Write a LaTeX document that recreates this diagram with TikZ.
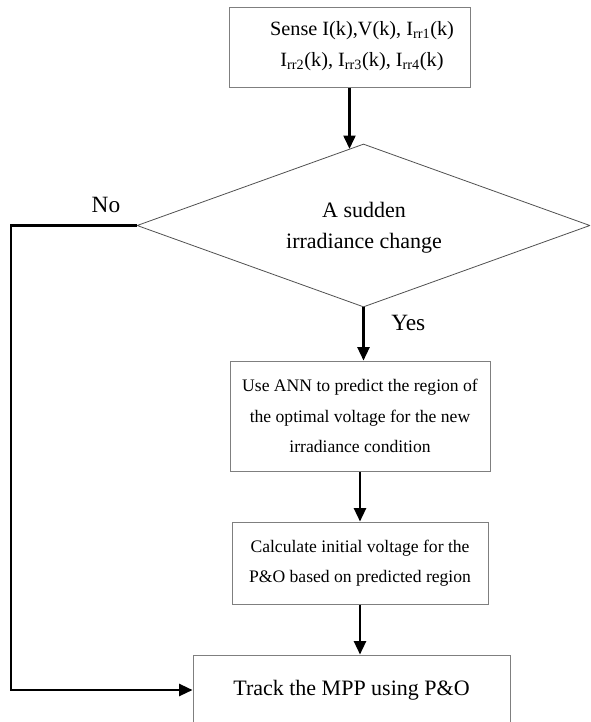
\documentclass[tikz,border=0pt]{standalone}
\usepackage{fontspec}
\setmainfont{Liberation Serif}
\usetikzlibrary{shapes.geometric,arrows.meta,calc}
\definecolor{boxgray}{HTML}{7F7F7F}
\definecolor{diagray}{HTML}{505050}
\newcommand{\mainsize}{\fontsize{13.2}{22.9}\selectfont}
\newcommand{\sensesize}{\fontsize{15.2}{22.9}\selectfont}
\newcommand{\largesize}{\fontsize{16.5}{23.2}\selectfont}
\newcommand{\labelsize}{\fontsize{17.5}{21}\selectfont}
\begin{document}
\begin{tikzpicture}[x=0.75pt,y=-0.75pt,
  procbox/.style={draw=boxgray, line width=0.75pt, align=center, inner sep=0pt, font=\mainsize},
  decision/.style={diamond, draw=diagray, line width=0.6pt, inner sep=0pt},
  textonly/.style={align=center, inner sep=0pt},
  label/.style={font=\labelsize, inner sep=0pt},
  flow/.style={line width=1.7pt, -{Triangle[length=10pt,width=9pt]}}]
\useasboundingbox (0,0) rectangle (590,722);
\clip (0,0) rectangle (590,722);

% process steps
\node[procbox, minimum width=180.75pt, minimum height=60pt] (sense) at (349.5,47) {};
\node[textonly, font=\sensesize] (sensetxt) at (362,46)
  {Sense I(k),V(k), I\textsubscript{rr1}(k)\\ I\textsubscript{rr2}(k), I\textsubscript{rr3}(k), I\textsubscript{rr4}(k)};
\node[decision, minimum width=339.75pt, minimum height=122.25pt] (change) at (363.5,225.5) {};
\node[textonly, font=\largesize] (changetxt) at (364,228) {A sudden\\irradiance change};
\node[procbox, minimum width=195pt, minimum height=82.5pt] (ann) at (360,416)
  {Use ANN to predict the region of\\the optimal voltage for the new\\irradiance condition};
\node[procbox, minimum width=192pt, minimum height=61.5pt] (initv) at (360,563)
  {Calculate initial voltage for the\\P\&O based on predicted region};
\node[procbox, font=\largesize, minimum width=237.75pt, minimum height=52.5pt] (track) at (351.5,690)
  {Track the MPP using P\&O};

% branch labels
\node[label] (nolbl) at (106,205) {No};
\node[label, anchor=west] (yeslbl) at (391,323) {Yes};

% connectors
\coordinate (entry) at ($(change.north)!0.064!(change.west)$);
\coordinate (loopx) at (11,0);
\draw[flow] (sense.south) -- (sense.south |- entry);
\draw[flow] (change.south) -- (change.south |- ann.north);
\draw[flow] (ann.south) -- (ann.south |- initv.north);
\draw[flow] (initv.south) -- (initv.south |- track.north);
\draw[flow] (change.west) -- (change.west -| loopx) -- (loopx |- track.west) -- (track.west);
\end{tikzpicture}
\end{document}
